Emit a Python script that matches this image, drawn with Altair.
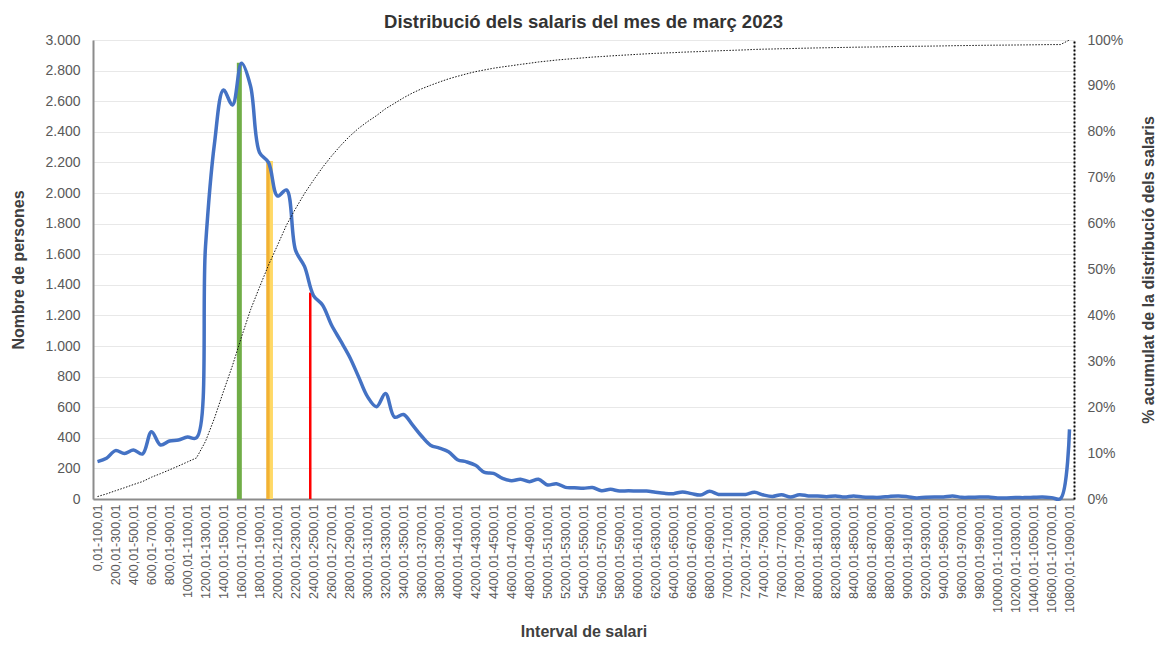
import json
import altair as alt
import pandas as pd

# ---------------- data ----------------
lows = list(range(0, 10900, 100))
categories = [f"{lo},01-{lo + 100},01" for lo in lows]

persons = [
    244, 266, 316, 298, 320, 294, 440, 353, 379, 386, 405, 400,
    1650, 2325, 2673, 2575, 2848, 2700, 2265, 2200, 1980, 2020, 1627, 1520, 1330,
    1268, 1137, 1035, 930, 800, 669, 603, 690, 535, 552, 484, 412, 352, 333, 309, 257, 243, 220,
    174, 168, 135, 120, 129, 113, 129, 92, 100, 76, 74, 70, 75, 54, 63, 52, 54, 52, 52, 44, 37,
    35, 46, 35, 26, 50, 30,
    30, 30, 30, 44, 26, 17, 28, 13, 28, 20, 20, 15, 20, 13, 20, 13, 11, 11, 17, 20, 15, 7, 11,
    13, 13, 20, 11, 11, 13, 13, 7, 7, 9, 9, 11, 13, 9, 2, 455,
]
assert len(persons) == len(categories)

marker_names = ["verd", "groc_a", "groc_b", "vermell"]
marker_salary = [1626, 1948, 1981, 2414]
marker_height = [2852, 2209, 2209, 1349]

left_ticks = list(range(0, 3001, 200))
right_ticks = [i / 10 for i in range(11)]
x_tick_values = [lo + 50 for lo in lows[::2]]

# ---------------- tables ----------------
df = pd.DataFrame({"interval": categories, "lo": lows, "persones": persons})
df["mid"] = df["lo"] + 50
mk = pd.DataFrame({"marca": marker_names, "salari": marker_salary, "altura": marker_height})

FONT = "Liberation Sans"
GREY = "#595959"
TITLE_C = "#404040"

x_scale = alt.Scale(domain=[0, 10900], nice=False, zero=False)
x_axis = alt.Axis(
    values=x_tick_values,
    labelExpr=json.dumps(categories, ensure_ascii=False) + "[floor(datum.value / 100)]",
    labelAngle=270, labelAlign="right", labelBaseline="middle",
    labelFontSize=12.5, labelColor=GREY, labelPadding=5, labelOverlap=False,
    labelFont=FONT, ticks=False, grid=False,
    domainColor="#8c8c8c", domainWidth=2,
    title="Interval de salari", titleFontSize=16, titleFontWeight="bold",
    titleColor=TITLE_C, titleFont=FONT, titleY=137, titleBaseline="alphabetic",
)

left_scale = alt.Scale(domain=[0, 3000], nice=False, zero=True)
left_axis = alt.Axis(
    values=left_ticks,
    labelExpr="replace(format(datum.value, ','), ',', '.')",
    labelFontSize=14, labelColor=GREY, labelPadding=13, labelFont=FONT,
    ticks=False, grid=True, gridColor="#E8E8E8", gridWidth=1,
    domainColor="#8c8c8c", domainWidth=2,
    title="Nombre de persones", titleFontSize=16, titleFontWeight="bold",
    titleColor=TITLE_C, titleFont=FONT, titleX=-75, titleBaseline="middle",
    titleAngle=270,
)


def xenc(field):
    return alt.X(field, scale=x_scale, axis=x_axis, title="Interval de salari")


def yleft(field):
    return alt.Y(field, scale=left_scale, axis=left_axis, title="Nombre de persones")


rules = alt.Chart(mk).mark_rule().encode(
    x=xenc("salari:Q"),
    y=yleft("altura:Q"),
    y2=alt.datum(0),
    color=alt.Color("marca:N", scale=alt.Scale(domain=marker_names,
                    range=["#70AD47", "#F2B233", "#FFD966", "#FF0000"]), legend=None),
    strokeWidth=alt.StrokeWidth("marca:O", scale=alt.Scale(domain=marker_names,
                                range=[5, 2.5, 2.5, 3]), legend=None),
)

line = alt.Chart(df).mark_line(color="#4472C4", strokeWidth=3.5,
                               interpolate="catmull-rom").encode(
    x=xenc("mid:Q"),
    y=yleft("persones:Q"),
)

left = alt.layer(rules, line)

cum = alt.Chart(df).transform_window(
    acum="sum(persones)", sort=[alt.SortField("mid")], frame=[None, 0]
).transform_joinaggregate(
    total="sum(persones)"
).transform_calculate(
    pct="datum.acum / datum.total"
).mark_line(color="#111111", strokeWidth=1, strokeDash=[1.5, 1.5]).encode(
    x=xenc("mid:Q"),
    y=alt.Y("pct:Q", scale=alt.Scale(domain=[0, 1], nice=False),
            axis=alt.Axis(
                orient="right", values=right_ticks, format=".0%",
                labelFontSize=14, labelColor=GREY, labelPadding=13, labelFont=FONT,
                ticks=False, grid=False,
                domainColor="#000000", domainWidth=2, domainDash=[2, 2],
                title="% acumulat de la distribució dels salaris",
                titleFontSize=16, titleFontWeight="bold", titleColor=TITLE_C,
                titleFont=FONT, titleAngle=270, titleX=74, titleBaseline="middle",
            )),
)

chart = alt.layer(left, cum).resolve_scale(y="independent").properties(
    width=981,
    height=459,
    padding={"left": 85, "top": 32, "right": 84, "bottom": 143},
    autosize=alt.AutoSizeParams(type="none"),
    title=alt.TitleParams(
        "Distribució dels salaris del mes de març 2023",
        fontSize=18.5, font=FONT, fontWeight="bold", color="#333333",
        anchor="middle", offset=18, baseline="alphabetic", dy=31,
    ),
).configure_view(stroke=None).configure(background="white", font=FONT)

chart.save("out.html", embed_options={"renderer": "svg", "actions": False})
